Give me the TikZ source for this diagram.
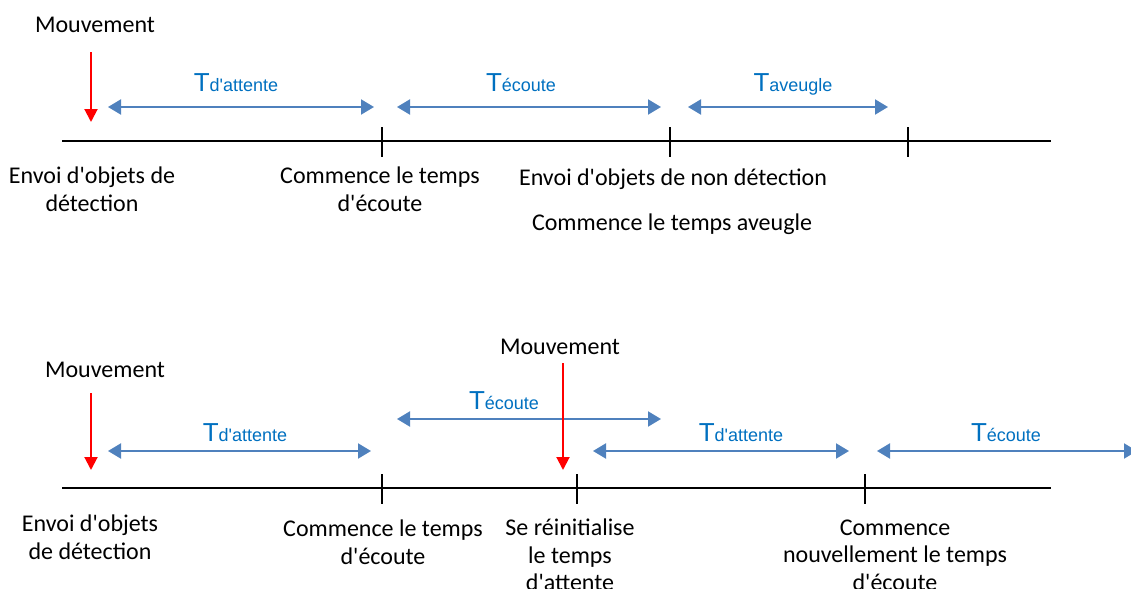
\documentclass[tikz,border=0pt]{standalone}
\usepackage{fontspec}
\setmainfont{Carlito}[Ligatures=TeXOff]
\newfontfamily\arialfont{Liberation Sans}[Ligatures=TeXOff]
\usetikzlibrary{arrows.meta, positioning}

\definecolor{arrowblue}{HTML}{4F81BD}
\definecolor{textblue}{HTML}{0070C0}
\newcommand{\Tsub}[1]{{\arialfont\fontsize{13}{15}\selectfont T}{\arialfont\fontsize{9}{11}\selectfont #1}}

\tikzset{
    timeaxis/.style={line width=1.2pt},
    timetick/.style={line width=1.2pt},
    interval/.style={arrowblue, line width=1pt,
        {Triangle[length=6.5pt,width=7.5pt]}-{Triangle[length=6.5pt,width=7.5pt]}},
    motion/.style={red, line width=1pt, -{Triangle[length=6.5pt,width=6.5pt]}},
    caption/.style={align=center, font=\fontsize{12}{13.8}\selectfont, inner sep=0pt},
    period/.style={textblue, inner sep=0pt, anchor=base}
}

\begin{document}
\begin{tikzpicture}[x=0.5pt, y=-0.5pt]
    \clip (0,0) rectangle (1131,589);

    % First scenario: no new movement
    \coordinate (ta0) at (62,141);
    \coordinate (ta9) at (1051,141);
    \draw[timeaxis] (ta0) -- (ta9);
    \foreach \x/\n in {382/ta1, 670/ta2, 908/ta3} {
        \coordinate (\n) at (\x,141);
        \draw[timetick] (\n) ++(0,-14) -- ++(0,30);
    }

    % Intervals
    \foreach \n/\xa/\xb/\xl/\s in {wait1/108/374/236/d'attente, listen1/397/661/521/écoute, blind1/688/888/793/aveugle} {
        \coordinate (\n s) at (\xa,107);
        \coordinate (\n e) at (\xb,107);
        \draw[interval] (\n s) -- (\n e);
        \node[period] (\n l) at (\xl,91) {\Tsub{\s}};
    }

    % Movement
    \node[caption] (mv1) at (95,25) {Mouvement};
    \coordinate (mv1s) at (91,52);
    \coordinate (mv1e) at (91,122);
    \draw[motion] (mv1s) -- (mv1e);

    % Captions under the axis
    \node[caption] (ca1) at (92,189) {Envoi d'objets de\\détection};
    \node[caption] (ca2) at (380,189) {Commence le temps\\d'écoute};
    \node[caption] (ca3) at (673,179) {Envoi d'objets de non détection};
    \node[caption] (ca4) at (672,224) {Commence le temps aveugle};

    % Second scenario: movement during listening
    \coordinate (tb0) at (62,488);
    \coordinate (tb9) at (1051,488);
    \draw[timeaxis] (tb0) -- (tb9);
    \foreach \x/\n in {382/tb1, 577/tb2, 865/tb3} {
        \coordinate (\n) at (\x,488);
        \draw[timetick] (\n) ++(0,-14) -- ++(0,30);
    }

    % Intervals
    \foreach \n/\xa/\xb/\y/\xl/\s in {wait2/108/371/451/245/d'attente, listen2/397/661/419/504/écoute,
            wait3/593/849/451/741/d'attente, listen3/877/1137/451/1006/écoute} {
        \coordinate (\n s) at (\xa,\y);
        \coordinate (\n e) at (\xb,\y);
        \draw[interval] (\n s) -- (\n e);
        \node[period] (\n l) at (\xl,\y-10) {\Tsub{\s}};
    }

    % Movements
    \node[caption] (mv2) at (105,370) {Mouvement};
    \coordinate (mv2s) at (91,393);
    \coordinate (mv2e) at (91,470);
    \draw[motion] (mv2s) -- (mv2e);
    \node[caption] (mv3) at (560,347) {Mouvement};
    \coordinate (mv3s) at (563,363);
    \coordinate (mv3e) at (563,470);
    \draw[motion] (mv3s) -- (mv3e);

    % Captions under the axis
    \node[caption] (cb1) at (90,537) {Envoi d'objets\\de détection};
    \node[caption] (cb2) at (383,542) {Commence le temps\\d'écoute};
    \node[caption] (cb3) at (570,555) {Se réinitialise\\le temps\\d'attente};
    \node[caption] (cb4) at (895,555) {Commence\\nouvellement le temps\\d'écoute};
\end{tikzpicture}
\end{document}
